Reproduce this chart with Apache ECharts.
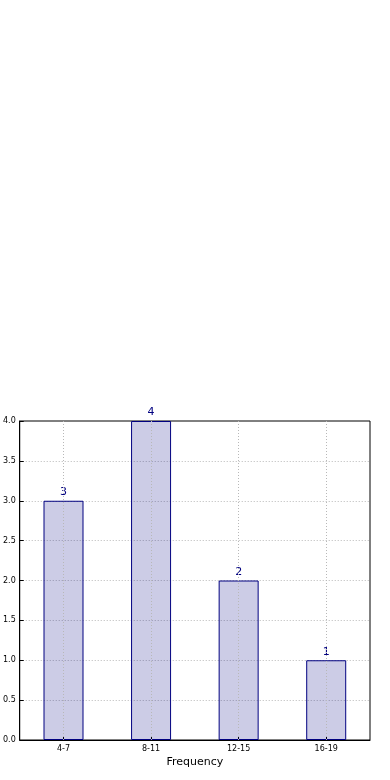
<!DOCTYPE html>
<html>
<head>
<meta charset="utf-8">
<script src="https://cdn.jsdelivr.net/npm/echarts@6/dist/echarts.min.js"></script>
<style>
  html, body { margin: 0; padding: 0; background: #fff; }
  #chart { width: 390px; height: 780px; }
</style>
</head>
<body>
<div id="chart"></div>
<script>
// data
const categories = ['4-7', '8-11', '12-15', '16-19'];
const counts = [3, 4, 2, 1];

const chart = echarts.init(document.getElementById('chart'));

const dotted = { color: '#b8b8b8', type: [1, 2], width: 1 };

const option = {
  backgroundColor: '#fff',
  textStyle: { fontFamily: 'DejaVu Sans' },
  grid: {
    left: 19,
    right: 20,
    top: 421,
    bottom: 40,
    show: true,
    borderColor: '#000',
    borderWidth: 1,
    backgroundColor: '#fff'
  },
  xAxis: {
    type: 'category',
    data: categories,
    name: 'Frequency',
    nameLocation: 'middle',
    nameGap: 17,
    nameTextStyle: { fontSize: 11, color: '#000' },
    axisLine: { lineStyle: { color: '#000' } },
    axisTick: { show: true, inside: true, alignWithLabel: true, length: 4, lineStyle: { color: '#000' } },
    axisLabel: { fontSize: 8, color: '#000', margin: 5 },
    splitLine: { show: false }
  },
  yAxis: {
    type: 'value',
    min: 0,
    max: 4,
    interval: 0.5,
    axisLine: { show: true, lineStyle: { color: '#000' } },
    axisTick: { show: true, inside: true, length: 4, lineStyle: { color: '#000' } },
    axisLabel: { fontSize: 8, color: '#000', margin: 4, formatter: v => v.toFixed(1) },
    splitLine: { show: true, showMinLine: false, showMaxLine: false, lineStyle: dotted }
  },
  series: [
    {
      type: 'bar',
      data: counts,
      barWidth: 40,
      itemStyle: { color: 'rgba(0,0,128,0.2)', borderColor: '#000080', borderWidth: 1 },
      label: { show: true, position: 'top', distance: 3, color: '#000080', fontSize: 11 },
      markLine: {
        silent: true,
        symbol: 'none',
        label: { show: false },
        lineStyle: dotted,
        data: categories.map(c => ({ xAxis: c }))
      }
    }
  ]
};

chart.setOption(option);
</script>
</body>
</html>
